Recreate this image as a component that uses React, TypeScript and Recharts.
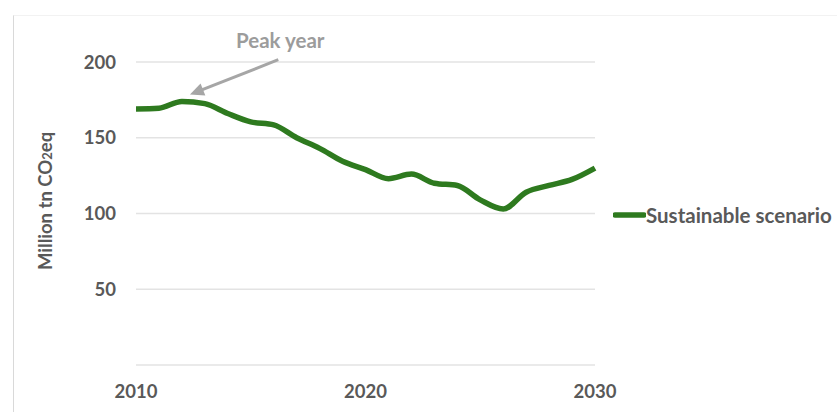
import React from 'react';
import { LineChart, Line, XAxis, YAxis, CartesianGrid, Legend, ReferenceLine, Label } from 'recharts';

const years = [2010, 2011, 2012, 2013, 2014, 2015, 2016, 2017, 2018, 2019, 2020, 2021, 2022, 2023, 2024, 2025, 2026, 2027, 2028, 2029, 2030];
const sustainable = [169, 169.5, 174, 172.5, 166, 160.5, 158.5, 150, 143, 134.5, 129, 123, 126, 120, 118.5, 109, 103, 114, 118.5, 122.5, 130];
const yTicks = [0, 50, 100, 150, 200];
const xTicks = [2010, 2020, 2030];
const seriesName = 'Sustainable scenario';
const peakLabel = 'Peak year';
const peakArrowFrom = { x: 2016.2, y: 201.5 };
const peakArrowTo = { x: 2012.35, y: 178.5 };

const data = years.map((year, i) => ({ year, value: sustainable[i] }));

const FONT = 'Lato, "Noto Sans", sans-serif';
const GREEN = '#2E7A1F';
const TEXT = '#595959';

const ArrowShape = (props: any) => {
  const { x1, y1, x2, y2 } = props;
  if ([x1, y1, x2, y2].some((v) => typeof v !== 'number' || isNaN(v))) return null;
  const dx = x2 - x1;
  const dy = y2 - y1;
  const len = Math.sqrt(dx * dx + dy * dy);
  const ux = dx / len;
  const uy = dy / len;
  const head = 14;
  const half = 6.5;
  const bx = x2 - ux * head;
  const by = y2 - uy * head;
  const px = -uy;
  const py = ux;
  return (
    <g>
      <line x1={x1} y1={y1} x2={bx + ux * 2} y2={by + uy * 2} stroke="#A6A6A6" strokeWidth={3} />
      <polygon
        points={`${x2},${y2} ${bx + px * half},${by + py * half} ${bx - px * half},${by - py * half}`}
        fill="#A6A6A6"
      />
      <text x={x1 + 2} y={y1 - 12} textAnchor="middle" fontFamily={FONT} fontWeight={700} fontSize={20.5} fill="#9C9C9C">
        {peakLabel}
      </text>
    </g>
  );
};

const YLabel = () => (
  <text
    x={45}
    y={270}
    transform="rotate(-90 45 270)"
    textAnchor="start"
    dominantBaseline="central"
    fontFamily={FONT}
    fontWeight={700}
    fontSize={18.5}
    fill={TEXT}
  >
    <tspan>Million tn CO</tspan>
    <tspan fontSize={13} dy={2}>2</tspan>
    <tspan dy={-2}>eq</tspan>
  </text>
);

const LegendContent = () => (
  <div style={{ display: 'flex', alignItems: 'center', fontFamily: FONT, fontWeight: 700, fontSize: 20.5, color: TEXT, whiteSpace: 'nowrap' }}>
    <svg width={33} height={10} style={{ display: 'block' }}>
      <line x1={2} y1={5} x2={31} y2={5} stroke={GREEN} strokeWidth={5.5} strokeLinecap="round" />
    </svg>
    <span>{seriesName}</span>
  </div>
);

export default function App() {
  return (
    <div style={{ position: 'absolute', left: 0, top: 0, width: 837, height: 412, background: '#fff', overflow: 'hidden' }}>
      <div
        style={{
          position: 'absolute',
          left: 13,
          top: 15,
          width: 830,
          height: 400,
          borderLeft: '1px solid #D9D9D9',
          borderTop: '1px solid #F2F2F2',
        }}
      />
      <LineChart width={837} height={412} data={data} margin={{ top: 62, right: 19, bottom: 0, left: 0 }}>
        <CartesianGrid vertical={false} stroke="#E3E3E3" strokeWidth={1.5} />
        <XAxis
          dataKey="year"
          type="number"
          domain={[2010, 2030]}
          ticks={xTicks}
          axisLine={false}
          tickLine={false}
          tickSize={0}
          tickMargin={20}
          height={47}
          tick={{ fontFamily: FONT, fontWeight: 700, fontSize: 18.5, fill: TEXT }}
        />
        <YAxis
          domain={[0, 200]}
          ticks={yTicks}
          axisLine={false}
          tickLine={false}
          tickSize={0}
          tickMargin={20}
          width={136}
          tickFormatter={(v: number) => (v === 0 ? '' : String(v))}
          tick={{ fontFamily: FONT, fontWeight: 700, fontSize: 18.5, fill: TEXT }}
        >
          <Label content={<YLabel />} />
        </YAxis>
        <Legend
          layout="vertical"
          align="right"
          verticalAlign="middle"
          width={223}
          wrapperStyle={{ left: 613, top: 203, width: 223 }}
          content={<LegendContent />}
        />
        <Line
          type="monotone"
          dataKey="value"
          name={seriesName}
          stroke={GREEN}
          strokeWidth={5.5}
          dot={false}
          activeDot={false}
          isAnimationActive={false}
        />
        <ReferenceLine
          segment={[peakArrowFrom, peakArrowTo]}
          ifOverflow="visible"
          shape={<ArrowShape />}
        />
      </LineChart>
    </div>
  );
}
